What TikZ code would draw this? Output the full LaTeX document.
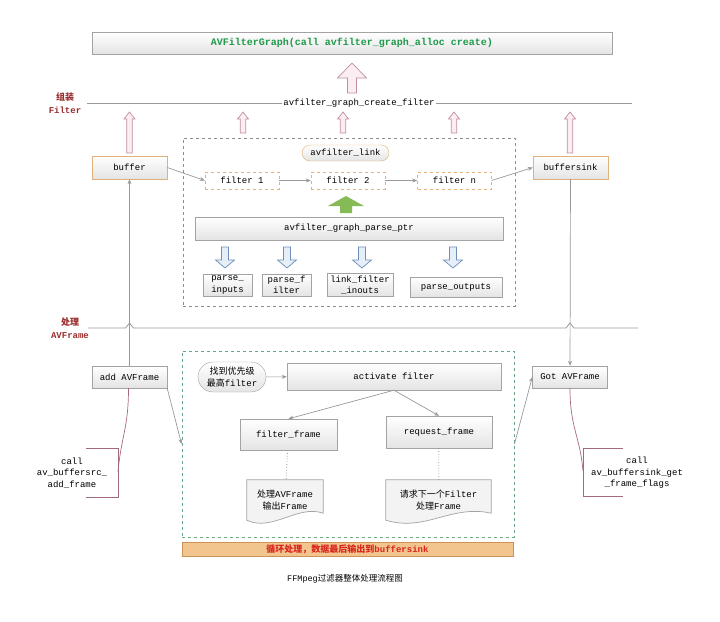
\documentclass[tikz,border=0pt]{standalone}
\usepackage{fontspec}
\setmonofont{Liberation Mono}
\newfontfamily\cjk{Noto Sans CJK SC}
\usetikzlibrary{arrows.meta,calc,shapes.misc,backgrounds}

\definecolor{lineg}{HTML}{999999}
\definecolor{boxline}{HTML}{A3A3A3}
\definecolor{boxshade}{HTML}{E4E4E4}
\definecolor{orangeline}{HTML}{E2B07A}
\definecolor{dashgrey}{HTML}{8C8C8C}
\definecolor{dashgreen}{HTML}{6AA784}
\definecolor{pinkline}{HTML}{C08E9B}
\definecolor{pinkfill}{HTML}{FBEEF2}
\definecolor{blueline}{HTML}{6D8FB8}
\definecolor{bluefill}{HTML}{E6EEF8}
\definecolor{greenfill}{HTML}{86BA55}
\definecolor{labelred}{HTML}{9B2D2D}
\definecolor{titlegreen}{HTML}{1F9A4A}
\definecolor{barfill}{HTML}{F2C48E}
\definecolor{barline}{HTML}{C9935A}
\definecolor{bartext}{HTML}{D7261E}
\definecolor{callred}{HTML}{A46A7A}

\tikzset{
  every node/.style={font=\ttfamily\fontsize{9}{11.5}\selectfont, align=center},
  greybox/.style={draw=boxline, top color=white, bottom color=boxshade, inner sep=1pt},
  orangebox/.style={greybox, draw=orangeline},
  filterbox/.style={draw=orangeline, dashed, fill=white, inner sep=1pt},
  pill/.style={greybox, rounded rectangle},
  redlabel/.style={text=labelred, font=\ttfamily\bfseries\fontsize{9}{13}\selectfont},
  gline/.style={draw=lineg, line width=0.8pt},
  conn/.style={draw=lineg, line width=0.7pt, -{Stealth[length=5pt,width=4pt]}},
  dotline/.style={draw=lineg, dotted, line width=0.8pt},
  callline/.style={draw=callred, line width=0.7pt},
  pinkarrow/.style={draw=pinkline, fill=pinkfill, line width=0.7pt},
  bluearrow/.style={draw=blueline, fill=bluefill, line width=0.7pt},
  docshape/.style={draw=boxline, fill=boxshade!45, line width=0.7pt},
  pics/blockarrow/.style n args={4}{code={
    \path[pic actions] (-#2,0) -- (-#2,{#4-(#1)}) -- (-#3,{#4-(#1)}) -- (0,{-(#1)})
      -- (#3,{#4-(#1)}) -- (#2,{#4-(#1)}) -- (#2,0) -- cycle;}},
}

\begin{document}
\begin{tikzpicture}[x=1pt,y=-1pt]
    \useasboundingbox (0,0) rectangle (720,621);
    % filter graph
    \node[greybox, minimum width=520pt, minimum height=22pt, text=titlegreen,
      font=\ttfamily\bfseries\fontsize{10}{12}\selectfont] (graph) at (352,43)
      {AVFilterGraph(call avfilter\_graph\_alloc create)};
    \pic[pinkarrow] at (352,93) {blockarrow={30}{4.5}{14.5}{15}};
    % assemble line
    \node[redlabel] (asmlbl) at (65,103) {{\cjk 组装}\\Filter};
    \coordinate (asmL) at (87,103);
    \coordinate (asmR) at (632,103);
    \draw[gline] (asmL) -- (asmR);
    \node[fill=white, inner sep=1pt] (createf) at (359,103) {avfilter\_graph\_create\_filter};
    \foreach \x/\b in {129.5/153, 243/133, 343/133, 454/133, 570/153}
        \pic[pinkarrow] at (\x,\b) {blockarrow={\b-112}{2.7}{5.5}{7}};
    % filter chain
    \node[draw=dashgrey, dashed, line width=0.7pt, minimum width=332pt, minimum height=168pt] (buildbox) at (349,222) {};
    \node[orangebox, minimum width=75pt, minimum height=23pt] (buffer) at (129.5,167.5) {buffer};
    \node[orangebox, minimum width=75pt, minimum height=23pt] (sink) at (570.5,167.5) {buffersink};
    \node[pill, draw=orangeline, fill=white, minimum width=89pt, minimum height=16pt] (link) at (345.5,153) {avfilter\_link};
    \node[filterbox, minimum width=74pt, minimum height=17pt] (f1) at (242,180.5) {filter 1};
    \node[filterbox, minimum width=74pt, minimum height=17pt] (f2) at (348,180.5) {filter 2};
    \node[filterbox, minimum width=74pt, minimum height=17pt] (fn) at (454.5,180.5) {filter n};
    \draw[conn] (buffer.east) -- (f1.west);
    \draw[conn] (f1) -- (f2);
    \draw[conn] (f2) -- (fn);
    \draw[conn] (fn.east) -- (sink.west);
    \pic[fill=greenfill] at (346,213) {blockarrow={17}{6}{18}{10}};
    % parse
    \node[greybox, minimum width=308pt, minimum height=23pt] (parse) at (349,228.5) {avfilter\_graph\_parse\_ptr};
    \foreach \x in {225, 287, 362, 453}
        \pic[bluearrow, rotate=180] at (\x,247) {blockarrow={21}{3.5}{9.5}{8}};
    \node[greybox, minimum width=49pt, minimum height=22pt] (pin) at (227.5,285) {parse\_\\inputs};
    \node[greybox, minimum width=49pt, minimum height=22pt] (pfil) at (286.5,285) {parse\_f\\ilter};
    \node[greybox, minimum width=66pt, minimum height=23pt] (plink) at (360,285) {link\_filter\\\_inouts};
    \node[greybox, minimum width=92pt, minimum height=20pt] (pout) at (456,287) {parse\_outputs};
    % process line
    \node[redlabel] (proclbl) at (70,328) {{\cjk 处理}\\AVFrame};
    \coordinate (procL) at (88,328);
    \coordinate (procR) at (638,328);
    \draw[gline] (procL) -- (125.5,328) -- (129.5,323) -- (133.5,328)
        -- (566,328) -- (570,323) -- (574,328) -- (procR);
    \node[greybox, minimum width=75pt, minimum height=22pt] (addf) at (129.5,377) {add AVFrame};
    \node[greybox, minimum width=75pt, minimum height=22pt] (gotf) at (570,377) {Got AVFrame};
    \draw[conn] (addf) -- (buffer);
    \draw[conn] (sink) -- (gotf);
    % loop
    \node[draw=dashgreen, dashed, line width=0.9pt, minimum width=332pt, minimum height=186pt] (loopbox) at (348,444) {};
    \node[draw=barline, fill=barfill, minimum width=331pt, minimum height=14pt, inner sep=0pt, text=bartext,
      font=\ttfamily\bfseries\fontsize{9}{11}\selectfont] (loopbar) at (347.5,549)
      {{\cjk 循环处理，数据最后输出到}buffersink};
    \node[pill, minimum width=70pt, minimum height=30pt] (findf) at (232,377) {{\cjk 找到优先级}\\{\cjk 最高}filter};
    \node[greybox, minimum width=214pt, minimum height=27pt] (activ) at (394,376.5) {activate filter};
    \node[greybox, minimum width=97pt, minimum height=31pt] (ffr) at (288.5,434.5) {filter\_frame};
    \node[greybox, minimum width=106pt, minimum height=32pt] (rfr) at (439,432) {request\_frame};
    \draw[conn] (findf) -- (activ);
    \draw[conn] (activ.south) -- (ffr.north);
    \draw[conn] (activ.south) -- (rfr.north);
    \draw[conn] (addf.south east) -- (loopbox.west);
    \draw[conn] (loopbox.east) -- (gotf.west);
    % documents
    \node[minimum width=76pt, minimum height=40pt, inner sep=0pt] (doc1) at (285,500) {{\cjk 处理}AVFrame\\{\cjk 输出}Frame};
    \node[minimum width=105pt, minimum height=40pt, inner sep=0pt] (doc2) at (438.5,500) {{\cjk 请求下一个}Filter\\{\cjk 处理}Frame};
    \begin{scope}[on background layer]
    \foreach \d in {doc1, doc2}
        \path[docshape] (\d.north west) -- (\d.north east)
            -- ($(\d.south east)+(0,-7)$)
            .. controls ($(\d.south)+(13,-16)$) and ($(\d.south)+(-13,12)$) .. (\d.south west) -- cycle;
    \end{scope}
    \draw[dotline] (ffr) -- (doc1);
    \draw[dotline] (rfr) -- (doc2);
    % calls
    \node (callsrc) at (72,473) {call\\av\_buffersrc\_\\add\_frame};
    \coordinate (srcb) at (118,472);
    \draw[callline] ([xshift=-1pt]addf.south) .. controls +(0,40) and +(3,-35) .. (srcb);
    \draw[callline] ($(srcb)+(-32,-24)$) -- ($(srcb)+(0,-24)$) -- ($(srcb)+(0,25)$) -- ($(srcb)+(-32,25)$);
    \node (callsink) at (637,473) {call\\av\_buffersink\_get\\\_frame\_flags};
    \coordinate (sinkb) at (583,471);
    \draw[callline] (gotf.south) .. controls +(0,40) and +(-3,-35) .. (sinkb);
    \draw[callline] ($(sinkb)+(40,-23)$) -- ($(sinkb)+(0,-23)$) -- ($(sinkb)+(0,25)$) -- ($(sinkb)+(40,25)$);
    % caption
    \node[font=\ttfamily\fontsize{8.5}{10}\selectfont] (caption) at (345,579) {FFMpeg{\cjk 过滤器整体处理流程图}};
\end{tikzpicture}
\end{document}
